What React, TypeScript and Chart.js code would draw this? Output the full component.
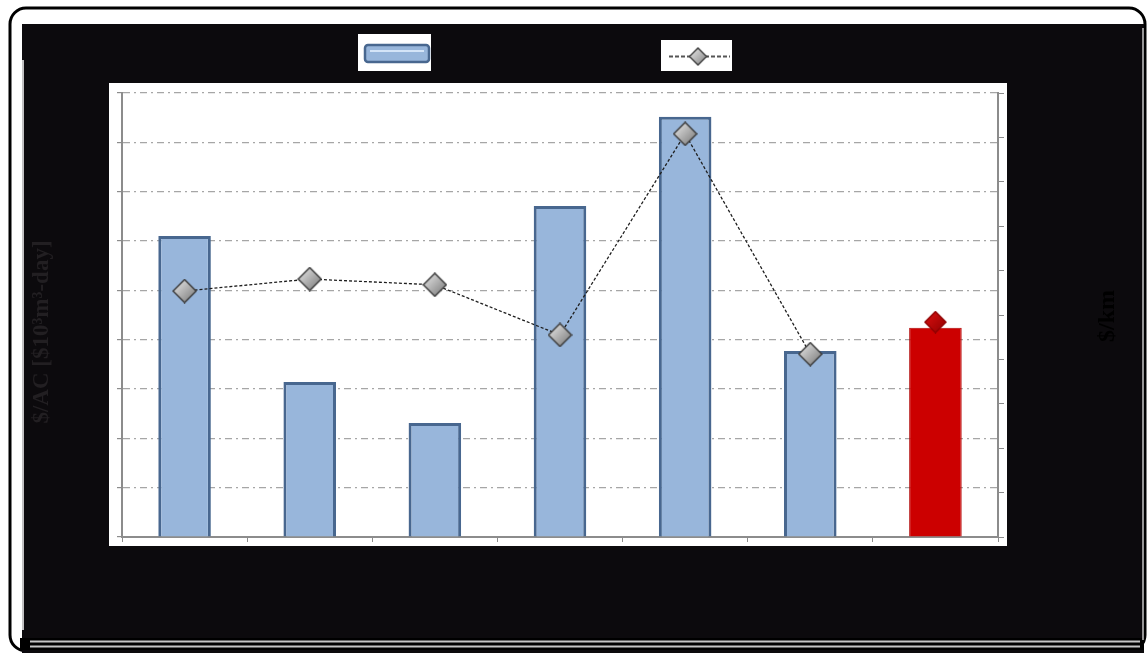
import { useEffect, useRef } from 'react';
import { Chart, registerables } from 'chart.js';

Chart.register(...registerables);

// Seven cases: cost per unit of capacity (bars, left axis) and cost per km (line, right axis)
const categories = ['1', '2', '3', '4', '5', '6', '7'];
const costPerAC = [6.1, 3.14, 2.31, 6.71, 8.52, 3.77, 4.24];
const costPerKm = [5.54, 5.81, 5.68, 4.55, 9.08, 4.12, 4.84];
const leftAxisMax = 9;
const rightAxisMax = 10;
const leftTitle = '$/AC [$10³m³-day]';
const rightTitle = '$/km';
const seriesLabels = ['$/AC', '$/km'];

const BG = '#0c0a0d';
const BLUE_FILL = '#98b6db';
const BLUE_EDGE = '#48678f';
const RED_FILL = '#cc0000';

function makeDiamond(size: number, light: string, dark: string, edge: string) {
  const c = document.createElement('canvas');
  c.width = size;
  c.height = size;
  const g = c.getContext('2d')!;
  const h = size / 2;
  const grad = g.createLinearGradient(0, 0, size, size);
  grad.addColorStop(0, light);
  grad.addColorStop(1, dark);
  g.beginPath();
  g.moveTo(h, 1);
  g.lineTo(size - 1, h);
  g.lineTo(h, size - 1);
  g.lineTo(1, h);
  g.closePath();
  g.fillStyle = grad;
  g.fill();
  g.strokeStyle = edge;
  g.lineWidth = 1.5;
  g.stroke();
  return c;
}

// Page frame, white plot panel, axis titles and legend keys
const framePlugin = {
  id: 'frame',
  beforeDraw(chart: any) {
    const ctx = chart.ctx as CanvasRenderingContext2D;
    const W = chart.width;
    const H = chart.height;
    ctx.save();
    ctx.fillStyle = '#ffffff';
    ctx.fillRect(0, 0, W, H);
    // outer rounded border
    ctx.strokeStyle = '#000000';
    ctx.lineWidth = 3;
    ctx.beginPath();
    (ctx as any).roundRect(10, 8, W - 13, H - 10, 16);
    ctx.stroke();
    // dark body
    ctx.fillStyle = BG;
    ctx.fillRect(22, 24, W - 26, H - 24);
    ctx.fillStyle = '#000';
    ctx.fillRect(20, 638, W - 24, 12);
    ctx.strokeStyle = '#c4c4c4';
    ctx.lineWidth = 2;
    ctx.beginPath();
    ctx.moveTo(30, 641.5);
    ctx.lineTo(W - 8, 641.5);
    ctx.moveTo(30, 646.5);
    ctx.lineTo(W - 8, 646.5);
    ctx.stroke();
    ctx.lineWidth = 1.5;
    ctx.beginPath();
    ctx.moveTo(W - 5, 28);
    ctx.lineTo(W - 5, 640);
    ctx.stroke();
    ctx.strokeStyle = '#ffffff';
    ctx.beginPath();
    ctx.moveTo(23, 60);
    ctx.lineTo(23, 630);
    ctx.stroke();
    // white plot panel
    const a = chart.chartArea;
    ctx.fillStyle = '#ffffff';
    ctx.fillRect(a.left - 13, a.top - 10, a.right - a.left + 22, a.bottom - a.top + 19);
    ctx.restore();
  },
  afterDraw(chart: any) {
    const ctx = chart.ctx as CanvasRenderingContext2D;
    ctx.save();
    ctx.font = 'bold 23px "Liberation Serif", "Times New Roman", serif';
    ctx.textAlign = 'center';
    ctx.textBaseline = 'middle';
    ctx.fillStyle = '#221f22';
    ctx.translate(42, 332);
    ctx.rotate(-Math.PI / 2);
    ctx.fillText(leftTitle, 0, 0);
    ctx.restore();

    ctx.save();
    ctx.font = 'bold 24px "Liberation Serif", "Times New Roman", serif';
    ctx.textAlign = 'center';
    ctx.textBaseline = 'middle';
    ctx.fillStyle = '#000000';
    ctx.translate(1108, 316);
    ctx.rotate(-Math.PI / 2);
    ctx.fillText(rightTitle, 0, 0);
    ctx.restore();

    // legend keys
    ctx.save();
    ctx.fillStyle = '#ffffff';
    ctx.fillRect(358, 34, 73, 37);
    ctx.fillRect(661, 40, 71, 31);
    ctx.fillStyle = BLUE_FILL;
    ctx.strokeStyle = BLUE_EDGE;
    ctx.lineWidth = 2.5;
    ctx.beginPath();
    (ctx as any).roundRect(365, 45, 64, 17, 3);
    ctx.fill();
    ctx.stroke();
    ctx.strokeStyle = '#d4e4f7';
    ctx.lineWidth = 2;
    ctx.beginPath();
    ctx.moveTo(370, 51);
    ctx.lineTo(424, 51);
    ctx.stroke();
    ctx.strokeStyle = '#555';
    ctx.lineWidth = 2;
    ctx.setLineDash([4, 2]);
    ctx.beginPath();
    ctx.moveTo(669, 56.5);
    ctx.lineTo(730, 56.5);
    ctx.stroke();
    ctx.setLineDash([]);
    const d = makeDiamond(19, '#f4f4f4', '#7a7a7a', '#444');
    ctx.drawImage(d, 698 - 9.5, 56.5 - 9.5);
    ctx.restore();
  },
};

export default function App() {
  const ref = useRef<HTMLCanvasElement | null>(null);

  useEffect(() => {
    if (!ref.current) return;
    const grayDiamond = makeDiamond(25, '#f2f2f2', '#6e6e6e', '#3c3c3c');
    const redDiamond = makeDiamond(23, '#e01010', '#8c0000', '#900000');
    const last = categories.length - 1;

    const chart = new Chart(ref.current, {
      type: 'bar',
      data: {
        labels: categories,
        datasets: [
          {
            type: 'line',
            label: seriesLabels[1],
            data: costPerKm,
            yAxisID: 'y1',
            order: 0,
            borderColor: '#1e1e1e',
            borderWidth: 1.3,
            borderDash: [3, 2],
            tension: 0,
            fill: false,
            pointStyle: costPerKm.map((_, i) => (i === last ? redDiamond : grayDiamond)) as any,
            pointRadius: 12,
            segment: {
              borderColor: (c: any) => (c.p1DataIndex === last ? 'rgba(0,0,0,0)' : '#1e1e1e'),
            },
          } as any,
          {
            type: 'bar',
            label: seriesLabels[0],
            data: costPerAC,
            yAxisID: 'y',
            order: 1,
            backgroundColor: costPerAC.map((_, i) => (i === last ? RED_FILL : BLUE_FILL)),
            borderColor: costPerAC.map((_, i) => (i === last ? '#b00000' : BLUE_EDGE)),
            borderWidth: costPerAC.map((_, i) => (i === last ? 1 : 3)),
            borderSkipped: 'bottom',
            categoryPercentage: 1,
            barPercentage: costPerAC.map((_, i) => (i === last ? 0.44 : 0.42)) as any,
          } as any,
        ],
      },
      options: {
        responsive: false,
        animation: false,
        devicePixelRatio: 1,
        layout: { padding: { left: 102, right: 130, top: 93, bottom: 106 } },
        plugins: { legend: { display: false }, tooltip: { enabled: false } },
        scales: {
          x: {
            offset: true,
            ticks: { display: false },
            grid: {
              offset: true,
              drawOnChartArea: false,
              drawTicks: true,
              tickLength: 5,
              color: '#8c8c8c',
            },
            border: { color: '#8c8c8c', width: 2 },
            afterFit: (s: any) => {
              s.height = 10;
            },
          },
          y: {
            position: 'left',
            min: 0,
            max: leftAxisMax,
            ticks: { display: false, stepSize: 1 },
            grid: {
              color: '#a6a6a6',
              lineWidth: 1.2,
              drawTicks: true,
              tickLength: 5,
              tickColor: '#8c8c8c',
            },
            border: { color: '#8c8c8c', width: 2, dash: [7, 4, 2, 4] },
            afterFit: (s: any) => {
              s.width = 20;
            },
          },
          y1: {
            position: 'right',
            min: 0,
            max: rightAxisMax,
            ticks: { display: false, stepSize: 1 },
            grid: {
              drawOnChartArea: false,
              drawTicks: true,
              tickLength: 6,
              color: '#8c8c8c',
            },
            border: { color: '#8c8c8c', width: 2 },
            afterFit: (s: any) => {
              s.width = 20;
            },
          },
        },
      },
      plugins: [framePlugin],
    });
    return () => chart.destroy();
  }, []);

  return (
    <div style={{ position: 'fixed', left: 0, top: 0, width: 1148, height: 653 }}>
      <canvas ref={ref} width={1148} height={653} style={{ display: 'block' }} />
    </div>
  );
}
